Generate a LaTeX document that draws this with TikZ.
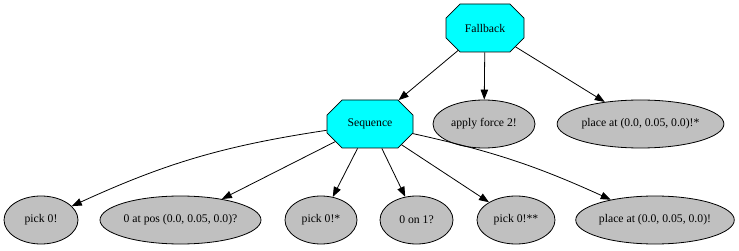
\documentclass[tikz,border=0pt]{standalone}
\usepackage{fontspec}
\setmainfont{Liberation Serif}
\usetikzlibrary{shapes.misc,shapes.geometric,arrows.meta}
\definecolor{aqua}{RGB}{0,255,255}
\definecolor{leafgray}{RGB}{192,192,192}

\begin{document}
\begin{tikzpicture}[x=1pt,y=-1pt,
  every node/.style={font=\fontsize{11.7}{13}\selectfont, inner sep=0pt},
  octbox/.style={chamfered rectangle, chamfered rectangle xsep=16pt,
    chamfered rectangle ysep=10pt, draw, fill=aqua, line width=0.8pt,
    minimum height=48pt},
  leaf/.style={ellipse, draw, fill=leafgray, line width=0.8pt, minimum height=48pt},
  edge/.style={draw, line width=0.8pt, -{Triangle[length=10pt,width=7.5pt]}}]
\useasboundingbox (0,0) rectangle (739,251);

% control nodes
\node[octbox, minimum width=78pt] (fb) at (485,28) {Fallback};
\node[octbox, minimum width=86pt] (seq) at (370,124) {Sequence};

% actions and conditions
\node[leaf, minimum width=102pt] (force) at (484,124) {apply force 2!};
\node[leaf, minimum width=165pt] (placeA) at (640.5,124) {place at (0.0, 0.05, 0.0)!*};
\node[leaf, minimum width=74pt] (pickA) at (41,220) {pick 0!};
\node[leaf, minimum width=161pt] (atpos) at (180.5,220) {0 at pos (0.0, 0.05, 0.0)?};
\node[leaf, minimum width=72pt] (pickB) at (321,220) {pick 0!*};
\node[leaf, minimum width=73pt] (on) at (416.5,220) {0 on 1?};
\node[leaf, minimum width=78pt] (pickC) at (516,220) {pick 0!**};
\node[leaf, minimum width=154pt] (placeB) at (655,220) {place at (0.0, 0.05, 0.0)!};

% tree edges
\path[edge] (fb) -- (seq);
\path[edge] (fb) -- (force);
\path[edge] (fb) -- (placeA);
\path[edge] (seq) to[bend right=8] (pickA);
\path[edge] (seq) -- (atpos);
\path[edge] (seq) -- (pickB);
\path[edge] (seq) -- (on);
\path[edge] (seq) -- (pickC);
\path[edge] (seq) to[bend left=6] (placeB);
\end{tikzpicture}
\end{document}
